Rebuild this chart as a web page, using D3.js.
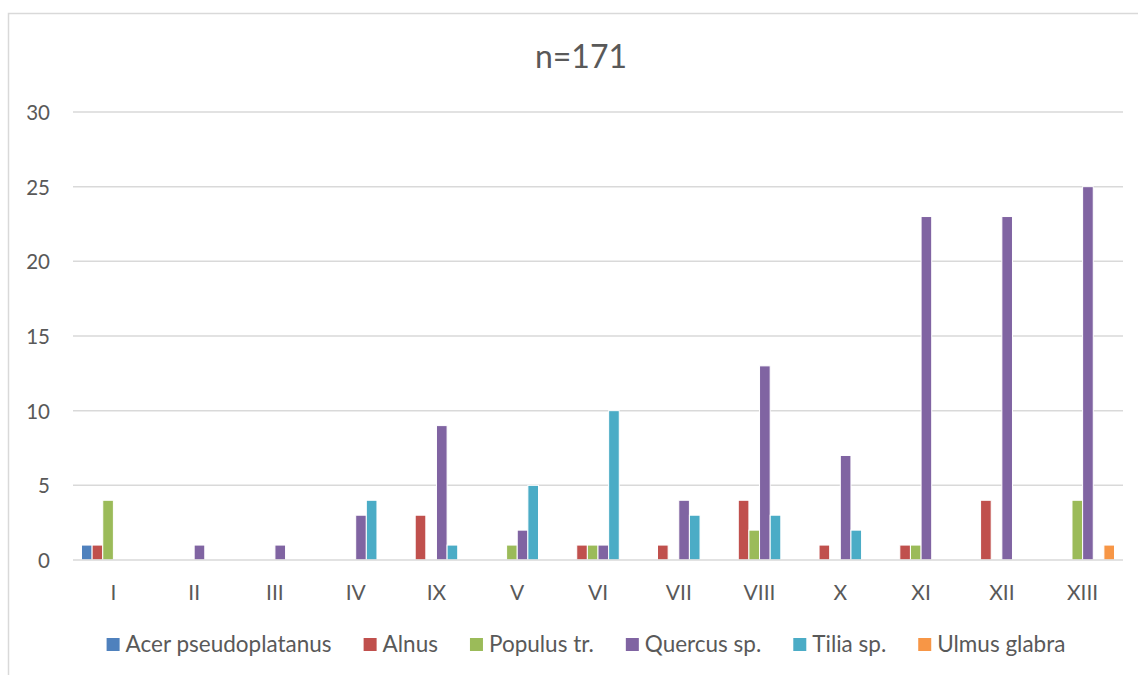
<!DOCTYPE html>
<html>
<head>
<meta charset="utf-8">
<script src="https://cdn.jsdelivr.net/npm/d3@7"></script>
<style>
  html, body { margin: 0; padding: 0; background: #fff; }
  svg { display: block; }
  text { font-family: Lato, "Open Sans", sans-serif; fill: #595959; }
</style>
</head>
<body>
<svg id="chart" width="1138" height="675"></svg>
<script>
// Sample plots (I–XIII) and tree counts per species
const categories = ["I", "II", "III", "IV", "IX", "V", "VI", "VII", "VIII", "X", "XI", "XII", "XIII"];
const seriesNames = ["Acer pseudoplatanus", "Alnus", "Populus tr.", "Quercus sp.", "Tilia sp.", "Ulmus glabra"];
const acer    = [1, 0, 0, 0, 0, 0, 0, 0, 0, 0, 0, 0, 0];
const alnus   = [1, 0, 0, 0, 3, 0, 1, 1, 4, 1, 1, 4, 0];
const populus = [4, 0, 0, 0, 0, 1, 1, 0, 2, 0, 1, 0, 4];
const quercus = [0, 1, 1, 3, 9, 2, 1, 4, 13, 7, 23, 23, 25];
const tilia   = [0, 0, 0, 4, 1, 5, 10, 3, 3, 2, 0, 0, 0];
const ulmus   = [0, 0, 0, 0, 0, 0, 0, 0, 0, 0, 0, 0, 1];
const yTicks  = [0, 5, 10, 15, 20, 25, 30];
const titleText = "n=171";

const seriesValues = [acer, alnus, populus, quercus, tilia, ulmus];
const colors = ["#4F81BD", "#C0504D", "#9BBB59", "#8064A2", "#4BACC6", "#F79646"];

const svg = d3.select("#chart");

// outer chart frame
svg.append("rect")
  .attr("x", 8.5).attr("y", 13.5)
  .attr("width", 1300).attr("height", 800)
  .attr("fill", "#fff").attr("stroke", "#D9D9D9").attr("stroke-width", 1.5);

const plot = { left: 73, right: 1123, top: 112, bottom: 560 };

const x0 = d3.scaleBand()
  .domain(categories)
  .range([plot.left, plot.right])
  .paddingInner(0.21)
  .paddingOuter(0.105);

const x1 = d3.scaleBand()
  .domain(d3.range(seriesNames.length))
  .range([0, x0.bandwidth()]);

const y = d3.scaleLinear().domain([0, 30]).range([plot.bottom, plot.top]);

// gridlines
svg.append("g").selectAll("line")
  .data(yTicks.filter(t => t !== 0))
  .join("line")
  .attr("x1", plot.left).attr("x2", plot.right)
  .attr("y1", d => y(d)).attr("y2", d => y(d))
  .attr("stroke", "#D9D9D9").attr("stroke-width", 1.5);

// y tick labels
const yAxis = d3.axisLeft(y).tickValues(yTicks).tickSize(0).tickPadding(23);
const gy = svg.append("g").attr("transform", `translate(${plot.left},0)`).call(yAxis);
gy.select(".domain").remove();
gy.selectAll("text")
  .style("font-size", "20.5px")
  .style("font-family", "Lato, sans-serif")
  .attr("fill", "#595959")
  .attr("dy", "0.36em");

// bars
const groups = svg.append("g").selectAll("g")
  .data(categories)
  .join("g")
  .attr("transform", d => `translate(${x0(d)},0)`);

groups.selectAll("rect")
  .data((d, i) => seriesValues.map((vals, s) => ({ s, v: vals[i] })).filter(e => e.v > 0))
  .join("rect")
  .attr("x", d => x1(d.s))
  .attr("width", x1.bandwidth())
  .attr("y", d => y(d.v))
  .attr("height", d => y(0) - y(d.v))
  .attr("fill", d => colors[d.s])
  .attr("stroke", "#fff")
  .attr("stroke-width", 1);

// category axis
const xAxis = d3.axisBottom(x0).tickSize(0).tickPadding(25);
const gx = svg.append("g").attr("transform", `translate(0,${plot.bottom})`).call(xAxis);
gx.select(".domain")
  .attr("stroke", "#D9D9D9").attr("stroke-width", 1.5)
  .attr("d", `M${plot.left},0H${plot.right}`);
gx.selectAll("text")
  .style("font-size", "21px")
  .style("font-family", "Lato, sans-serif")
  .attr("fill", "#595959");

// title
svg.append("text")
  .attr("x", 581).attr("y", 68)
  .attr("text-anchor", "middle")
  .style("font-size", "32px")
  .text(titleText);

// legend
const legend = svg.append("g");
const items = legend.selectAll("g")
  .data(seriesNames)
  .join("g");
items.append("rect")
  .attr("width", 13).attr("height", 13)
  .attr("y", 638)
  .attr("fill", (d, i) => colors[i]);
items.append("text")
  .attr("x", 19).attr("y", 652)
  .style("font-size", "22.5px")
  .text(d => d);

let cursor = 0;
const offsets = [];
items.each(function () {
  offsets.push(cursor);
  const w = d3.select(this).select("text").node().getComputedTextLength();
  cursor += 19 + w + 32;
});
const total = cursor - 32;
const startX = 586 - total / 2;
items.attr("transform", (d, i) => `translate(${startX + offsets[i]},0)`);
</script>
</body>
</html>
